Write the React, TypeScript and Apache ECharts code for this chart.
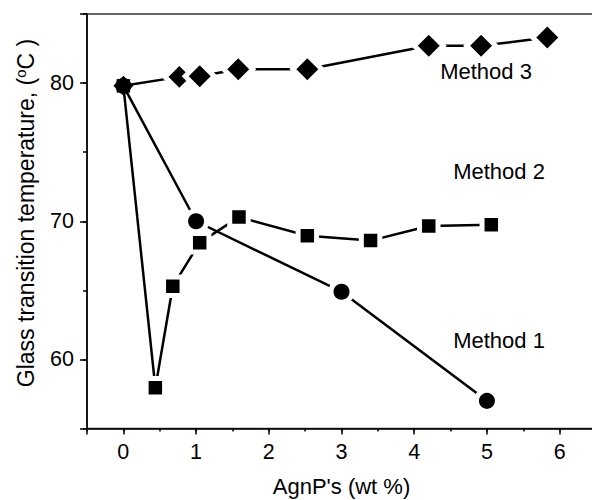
import React, { useEffect, useRef } from "react";
import * as echarts from "echarts";

// Glass transition temperature vs. silver nanoparticle loading, three preparation methods
const method1X = [0, 1, 3, 5];
const method1Y = [79.8, 70.0, 64.9, 57.0];

const method2X = [0, 0.44, 0.68, 1.05, 1.59, 2.53, 3.4, 4.2, 5.06];
const method2Y = [79.8, 57.95, 65.3, 68.45, 70.3, 68.95, 68.6, 69.65, 69.75];

const method3X = [0, 0.77, 1.05, 1.58, 2.53, 4.2, 4.92, 5.83];
const method3Y = [79.8, 80.45, 80.5, 81.0, 81.0, 82.7, 82.7, 83.3];

const seriesNames = ["Method 1", "Method 2", "Method 3"];
const xTitle = "AgnP's (wt %)";
const yTitleMain = "Glass transition temperature, (";
const yTitleSup = "o";
const yTitleEnd = "C )";

const FONT = "'Liberation Sans', Arial, Helvetica, sans-serif";
const INK = "#000";

// The shared first point is drawn without the white halo so the three markers merge
function points(xs: number[], ys: number[], bareSize: number | number[]) {
  return xs.map((x, i) =>
    i === 0
      ? { value: [x, ys[i]], symbolSize: bareSize, itemStyle: { borderWidth: 0 } }
      : [x, ys[i]]
  );
}

function lineSeries(
  name: string,
  data: any[],
  symbol: string,
  size: number | number[],
  z: number
) {
  return {
    type: "line",
    name,
    data,
    symbol,
    symbolSize: size,
    showAllSymbol: true,
    z,
    lineStyle: { color: INK, width: 2.5 },
    itemStyle: { color: INK, borderColor: "#fff", borderWidth: 5 },
    emphasis: { disabled: true },
    silent: true,
  };
}

export default function App() {
  const ref = useRef<HTMLDivElement>(null);

  useEffect(() => {
    if (!ref.current) return;
    const chart = echarts.init(ref.current, undefined, { renderer: "svg" });

    const tickLabel = { color: INK, fontSize: 21.5, fontFamily: FONT };

    chart.setOption({
      animation: false,
      backgroundColor: "#fff",
      grid: {
        left: 87,
        top: 14,
        right: -4,
        bottom: 71.5,
        show: true,
        borderColor: "#333",
        borderWidth: 1.5,
        backgroundColor: "transparent",
        containLabel: false,
        outerBoundsMode: "none",
      },
      xAxis: [
        {
          type: "value",
          min: -0.5,
          max: 6.5,
          interval: 0.5,
          position: "bottom",
          axisLine: { show: true, onZero: false, lineStyle: { color: INK, width: 1.5 } },
          axisTick: { show: true, length: 3, lineStyle: { color: INK, width: 1.5 } },
          axisLabel: {
            ...tickLabel,
            margin: 12,
            formatter: (v: number) => (Number.isInteger(v) ? String(v) : ""),
          },
          splitLine: { show: false },
          name: xTitle,
          nameLocation: "middle",
          nameGap: 47,
          nameTextStyle: { color: INK, fontSize: 22, fontFamily: FONT },
        },
        {
          type: "value",
          min: -0.5,
          max: 6.5,
          splitNumber: 7,
          position: "bottom",
          axisLine: { show: false, onZero: false },
          axisTick: { show: true, length: 6, lineStyle: { color: INK, width: 1.5 } },
          axisLabel: { show: false },
          splitLine: { show: false },
        },
      ],
      yAxis: [
        {
          type: "value",
          min: 55,
          max: 85,
          interval: 5,
          position: "left",
          axisLine: { show: true, onZero: false, lineStyle: { color: INK, width: 1.5 } },
          axisTick: { show: true, length: 4, lineStyle: { color: INK, width: 1.5 } },
          axisLabel: {
            ...tickLabel,
            margin: 13,
            formatter: (v: number) => (v % 10 === 0 ? String(v) : ""),
          },
          splitLine: { show: false },
        },
        {
          type: "value",
          min: 55,
          max: 85,
          splitNumber: 3,
          position: "left",
          axisLine: { show: false, onZero: false },
          axisTick: { show: true, length: 7, lineStyle: { color: INK, width: 1.5 } },
          axisLabel: { show: false },
          splitLine: { show: false },
        },
      ],
      series: [
        lineSeries(seriesNames[0], points(method1X, method1Y, 16), "circle", 21, 3),
        lineSeries(seriesNames[1], points(method2X, method2Y, 13.5), "rect", 18.5, 4),
        lineSeries(seriesNames[2], points(method3X, method3Y, 20), "diamond", 29, 2),
      ],
      graphic: [
        {
          type: "text",
          x: 26,
          y: 213,
          rotation: Math.PI / 2,
          style: {
            text: `{t|${yTitleMain}}{s|${yTitleSup}}{t|${yTitleEnd}}`,
            align: "center",
            verticalAlign: "middle",
            fill: INK,
            fontSize: 23,
            fontFamily: FONT,
            rich: {
              t: { fontSize: 23, fontFamily: FONT, fill: INK, lineHeight: 27 },
              s: {
                fontSize: 15,
                fontFamily: FONT,
                fill: INK,
                verticalAlign: "top",
                lineHeight: 15,
              },
            },
          },
        },
        {
          type: "text",
          x: 486,
          y: 71,
          style: {
            text: seriesNames[2],
            align: "center",
            verticalAlign: "middle",
            fill: INK,
            fontSize: 22,
            fontFamily: FONT,
          },
        },
        {
          type: "text",
          x: 499,
          y: 171,
          style: {
            text: seriesNames[1],
            align: "center",
            verticalAlign: "middle",
            fill: INK,
            fontSize: 22,
            fontFamily: FONT,
          },
        },
        {
          type: "text",
          x: 499,
          y: 340,
          style: {
            text: seriesNames[0],
            align: "center",
            verticalAlign: "middle",
            fill: INK,
            fontSize: 22,
            fontFamily: FONT,
          },
        },
      ],
    });

    return () => chart.dispose();
  }, []);

  return (
    <div
      ref={ref}
      style={{ position: "fixed", left: 0, top: 0, width: 592, height: 500, background: "#fff" }}
    />
  );
}
